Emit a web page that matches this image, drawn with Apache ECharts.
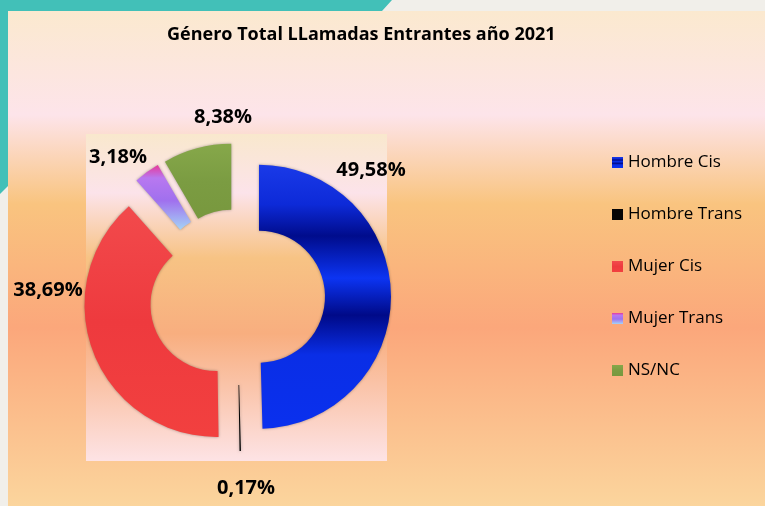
<!DOCTYPE html>
<html>
<head>
<meta charset="utf-8">
<script src="https://cdn.jsdelivr.net/npm/echarts@6/dist/echarts.min.js"></script>
<style>
  html, body { margin: 0; padding: 0; }
  #chart { width: 765px; height: 506px; }
</style>
</head>
<body>
<div id="chart"></div>
<script>
// datos
const categories = ['Hombre Cis', 'Hombre Trans', 'Mujer Cis', 'Mujer Trans', 'NS/NC'];
const values = [49.58, 0.17, 38.69, 3.18, 8.38];
const labelTexts = ['49,58%', '0,17%', '38,69%', '3,18%', '8,38%'];

// posiciones de las etiquetas (colocadas a mano como en el original de Excel)
const labelPos = [[371, 170], [246, 488], [48, 290], [118, 157], [223, 117]];

const grad = (stops) => new echarts.graphic.LinearGradient(0, 0, 0, 1,
    stops.map((c) => ({ offset: c[0], color: c[1] })));

const sliceColors = [
    grad([[0, '#1a3ae8'], [0.15, '#0d2ad8'], [0.27, '#000c8c'], [0.43, '#0c34f2'], [0.57, '#000a88'], [0.72, '#0a2ee6'], [1, '#0a30ee']]),
    '#050505',
    grad([[0, '#f24a4c'], [0.5, '#ee3a3e'], [1, '#f2403f']]),
    grad([[0, '#e8389a'], [0.2, '#b878f0'], [0.55, '#a070ee'], [1, '#a4d4f6']]),
    grad([[0, '#86a84a'], [0.5, '#7b9c42'], [1, '#78983e']])
];

const chart = echarts.init(document.getElementById('chart'));

const seriesData = categories.map((name, i) => ({
    name: name,
    value: values[i],
    selected: true,
    itemStyle: { color: sliceColors[i] }
}));

// etiquetas de porcentaje
const labelGraphics = labelTexts.map((t, i) => ({
    type: 'text',
    z: 10,
    x: labelPos[i][0],
    y: labelPos[i][1],
    style: {
        text: t,
        fill: '#000',
        font: 'bold 20px "Open Sans"',
        align: 'center',
        verticalAlign: 'middle'
    }
}));

chart.setOption({
    backgroundColor: '#f1efea',
    animation: false,
    title: {
        text: 'Género Total LLamadas Entrantes año 2021',
        left: 162,
        top: 21,
        textStyle: { fontFamily: 'Open Sans', fontWeight: 'bold', fontSize: 18, color: '#000' }
    },
    legend: {
        orient: 'vertical',
        left: 607,
        top: 149,
        itemWidth: 11,
        itemHeight: 11,
        itemGap: 35,
        icon: 'rect',
        selectedMode: false,
        data: categories,
        textStyle: { fontFamily: 'Open Sans', fontSize: 17, color: '#000', lineHeight: 17 }
    },
    graphic: [
        // franja turquesa
        { type: 'polygon', z: -5, shape: { points: [[0, 0], [392, 0], [382, 11], [8, 11], [8, 186], [0, 194]] }, style: { fill: '#42c0b8' } },
        // panel de fondo
        {
            type: 'rect', z: -5, shape: { x: 8, y: 11, width: 757, height: 495 },
            style: {
                fill: grad([[0, '#fbe9cf'], [0.21, '#fde4ea'], [0.39, '#f9c47f'], [0.64, '#fba77b'], [1, '#fbd59d']])
            }
        },
        // area de trazado
        {
            type: 'rect', z: -4, shape: { x: 86, y: 134, width: 301, height: 327 },
            style: {
                fill: grad([[0, '#f9e8cd'], [0.18, '#fce3ea'], [0.38, '#f7c384'], [0.61, '#f8ae7f'], [1, '#fde3e5']])
            }
        }
    ].concat(labelGraphics),
    series: [{
        type: 'pie',
        center: [237, 297],
        radius: [66, 132],
        startAngle: 90,
        clockwise: true,
        selectedMode: 'multiple',
        selectedOffset: 22,
        emphasis: { disabled: true },
        itemStyle: { shadowBlur: 3, shadowColor: 'rgba(0,0,0,0.35)' },
        label: { show: false },
        labelLine: { show: false },
        data: seriesData
    }]
});
</script>
</body>
</html>
